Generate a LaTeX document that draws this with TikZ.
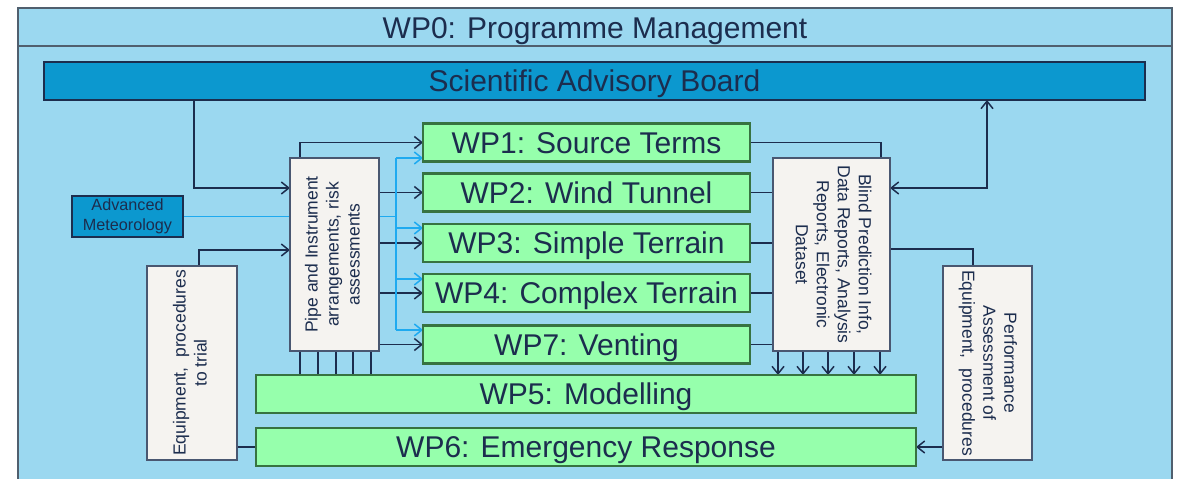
\documentclass[tikz,border=0pt]{standalone}
\usepackage{fontspec}
\usepackage{graphicx}
\setmainfont{Liberation Sans}
\usetikzlibrary{arrows.meta}
\definecolor{bgblue}{RGB}{155,216,240}
\definecolor{sabblue}{RGB}{12,152,207}
\definecolor{navy}{RGB}{28,45,78}
\definecolor{wpgreen}{RGB}{150,255,172}
\definecolor{wpborder}{RGB}{55,115,65}
\definecolor{boxfill}{RGB}{245,243,240}
\definecolor{lineblue}{RGB}{30,170,240}
\definecolor{framegray}{RGB}{80,95,110}
\pgfdeclarelayer{bg}
\pgfdeclarelayer{edges}
\pgfsetlayers{bg,edges,main}
\newcommand{\vtext}[2]{\rotatebox{#1}{\begin{tabular}{@{}c@{}}#2\end{tabular}}}
\begin{document}
\begin{tikzpicture}[x=1pt,y=-1pt,
  every node/.style={text=navy, inner sep=0pt, outer sep=0pt},
  bigtext/.style={font=\fontsize{30}{36}\selectfont, text height=21.5pt, text depth=0pt},
  wpbox/.style={bigtext, draw=wpborder, line width=2.5pt, fill=wpgreen, minimum height=38pt},
  whitebox/.style={draw=navy!80, line width=1.4pt, fill=boxfill,
     font=\fontsize{17.5}{21}\selectfont},
  conn/.style={draw=navy, line width=1.5pt},
  arr/.style={conn, -{Straight Barb[length=7.5pt,width=12pt]}},
  darr/.style={conn, {Straight Barb[length=7.5pt,width=12pt]}-{Straight Barb[length=7.5pt,width=12pt]}},
  bconn/.style={draw=lineblue, line width=1.5pt},
  barr/.style={bconn, -{Straight Barb[length=7.5pt,width=12pt]}},
]
\useasboundingbox (0,0) rectangle (1181,479);

\begin{pgfonlayer}{bg}
  \fill[white] (0,0) rectangle (1181,479);
  \draw[framegray, line width=2pt, fill=bgblue] (18,8) rectangle (1172,500);
  \draw[framegray, line width=2pt] (18,46) -- (1172,46);
\end{pgfonlayer}

% title
\node[bigtext] (title) at (595,28) {WP0: Programme Management};

% scientific advisory board
\node[bigtext, draw=navy, line width=2.5pt, fill=sabblue, minimum width=1101pt, minimum height=38pt]
  (sab) at (594.5,81) {Scientific Advisory Board};

% advanced meteorology
\node[draw=navy, line width=2pt, fill=sabblue, minimum width=111pt, minimum height=41pt,
      font=\fontsize{16.2}{19.5}\selectfont, align=center] (am) at (127.5,216.5) {Advanced\\Meteorology};

% white boxes
\node[whitebox, minimum width=89pt, minimum height=193pt] (pipe) at (334.5,254.5)
  {\vtext{90}{Pipe and Instrument\\ arrangements, risk\\ assessments}};
\node[whitebox, minimum width=90pt, minimum height=194pt] (equip) at (192,363)
  {\vtext{90}{Equipment,~ procedures\\ to trial}};
\node[whitebox, minimum width=117pt, minimum height=193pt] (blind) at (831.5,254.5)
  {\vtext{-90}{Blind Prediction Info,\\ Data Reports, Analysis\\ Reports, Electronic\\ Dataset}};
\node[whitebox, minimum width=89pt, minimum height=194pt] (perf) at (987.5,363)
  {\vtext{-90}{Performance\\ Assessment of\\ Equipment,~ procedures}};

% work packages
\node[wpbox, minimum width=327pt] (wp1) at (586.5,142.5) {WP1: Source Terms};
\node[wpbox, minimum width=327pt] (wp2) at (586.5,192.5) {WP2: Wind Tunnel};
\node[wpbox, minimum width=327pt] (wp3) at (586.5,243) {WP3: Simple Terrain};
\node[wpbox, minimum width=327pt] (wp4) at (586.5,293) {WP4: Complex Terrain};
\node[wpbox, minimum width=327pt] (wp7) at (586.5,344.5) {WP7: Venting};
\node[wpbox, minimum width=660pt] (wp5) at (586,394) {WP5: Modelling};
\node[wpbox, minimum width=660pt] (wp6) at (586,447) {WP6: Emergency Response};

% helper coordinates
\coordinate (c1) at (194,188);
\coordinate (c2) at (199,250);
\coordinate (c3) at (300,142.5);
\coordinate (bj) at (396,216.5);
\coordinate (b1) at (396,158);
\coordinate (b3) at (396,228);
\coordinate (b4) at (396,279);
\coordinate (b7) at (396,330);
\coordinate (c4) at (881,142.5);
\coordinate (c5) at (987,188);
\coordinate (c6) at (973,249);

\begin{pgfonlayer}{edges}
  % inputs to pipe box
  \draw[arr] (sab.south -| c1) |- (c1 -| pipe.west);
  \draw[arr] (equip.north -| c2) |- (c2 -| pipe.west);
  % pipe to WPs
  \draw[arr] (pipe.north -| c3) |- (wp1.west);
  \draw[arr] (pipe.east |- wp2.west) -- (wp2.west);
  \draw[arr] (pipe.east |- wp3.west) -- (wp3.west);
  \draw[arr] (pipe.east |- wp4.west) -- (wp4.west);
  \draw[arr] (pipe.east |- wp7.west) -- (wp7.west);
  % meteorology feed
  \draw[bconn] (am.east) -- (bj);
  \draw[bconn] (b1) -- (b7);
  \draw[barr] (b1) -- (b1 -| wp1.west);
  \draw[barr] (b3) -- (b3 -| wp3.west);
  \draw[barr] (b4) -- (b4 -| wp4.west);
  \draw[barr] (b7) -- (b7 -| wp7.west);
  % pipe to WP5
  \foreach \x in {300,318,336,353,371}
    \draw[conn] (\x,0 |- pipe.south) -- (\x,0 |- wp5.north);
  % WPs to blind box
  \draw[conn] (wp1.east) -| (blind.north -| c4);
  \draw[conn] (wp2.east) -- (wp2.east -| blind.west);
  \draw[conn] (wp3.east) -- (wp3.east -| blind.west);
  \draw[conn] (wp4.east) -- (wp4.east -| blind.west);
  \draw[conn] (wp7.east) -- (wp7.east -| blind.west);
  % blind to WP5
  \foreach \x in {778,803,828,854,880}
    \draw[arr] (\x,0 |- blind.south) -- (\x,0 |- wp5.north);
  % SAB <-> blind
  \draw[darr] (sab.south -| c5) |- (c5 -| blind.east);
  % blind to performance
  \draw[conn] (blind.east |- c6) -| (perf.north -| c6);
  % performance to WP6, equipment to WP6
  \draw[arr] (perf.west |- wp6.east) -- (wp6.east);
  \draw[conn] (equip.east |- wp6.west) -- (wp6.west);
\end{pgfonlayer}
\end{tikzpicture}
\end{document}
